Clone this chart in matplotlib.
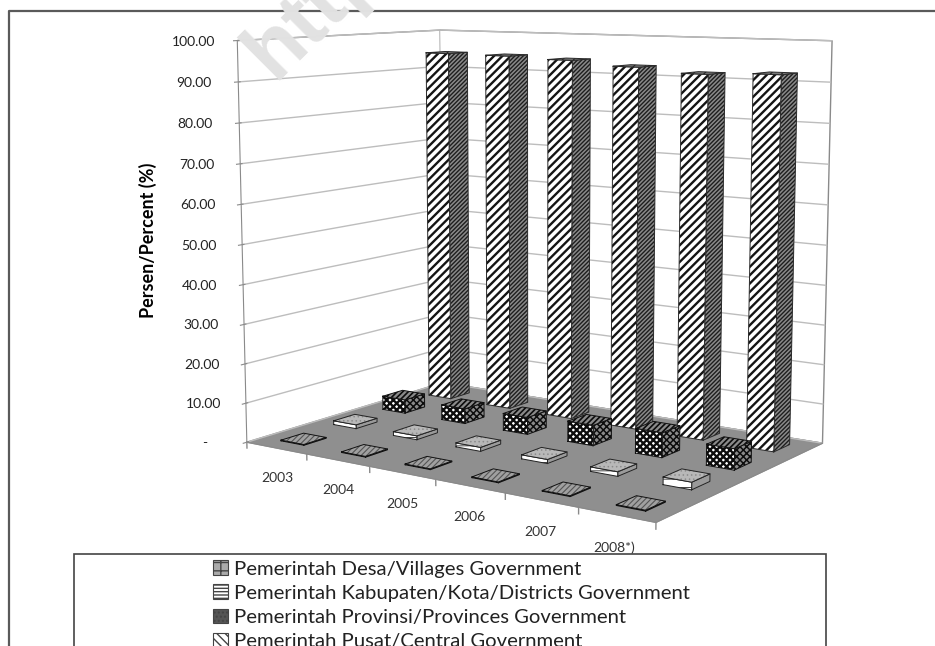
import numpy as np
import matplotlib
matplotlib.use('Agg')
import matplotlib.pyplot as plt
from matplotlib.patches import Patch, Rectangle
from mpl_toolkits.mplot3d.art3d import Poly3DCollection

plt.rcParams['font.family'] = ['Lato', 'DejaVu Sans']

years = ['2003', '2004', '2005', '2006', '2007', '2008*)']
series = [
    'Pemerintah Desa/Villages Government',
    'Pemerintah Kabupaten/Kota/Districts Government',
    'Pemerintah Provinsi/Provinces Government',
    'Pemerintah Pusat/Central Government',
]
desa = [0.18, 0.18, 0.18, 0.18, 0.18, 0.2]
kabupaten = [1.0, 1.0, 1.0, 1.0, 1.1, 1.8]
provinsi = [3.6, 3.9, 4.4, 5.2, 6.2, 5.2]
pusat = [94.5, 94.4, 93.9, 92.8, 91.7, 92.3]
z_ticks = [0, 10, 20, 30, 40, 50, 60, 70, 80, 90, 100]

values = [desa, kabupaten, provinsi, pusat]

# face, hatch colour, hatch and hatch width for the front, side and top of each series' boxes
styles = [
    {'front': ('#b0b0b0', '#303030', '////', 0.6), 'side': ('#505050', '#202020', '', 0.6),
     'top': ('#a0a0a0', '#555555', '//////', 0.8)},
    {'front': ('#ffffff', '#444444', '--', 0.7), 'side': ('#9a9a9a', '#222222', '', 0.6),
     'top': ('#b8b8b8', '#8c8c8c', '....', 0.6)},
    {'front': ('#ffffff', '#0c0c0c', 'xxxxx', 1.7), 'side': ('#8a8a8a', '#0c0c0c', 'xxxxx', 1.1),
     'top': ('#8a8a8a', '#0c0c0c', '//////', 1.2)},
    {'front': ('#ffffff', '#141414', '////', 1.7), 'side': ('#8a8a8a', '#1e1e1e', '////////', 1.0),
     'top': ('#777777', '#222222', '///', 0.8)},
]
edges = ['#111111', '#222222', '#111111', '#2a2a2a']

fig = plt.figure(figsize=(9.35, 6.46), dpi=100)

fig.add_artist(plt.Line2D([9 / 935, 9 / 935, 1], [0, 635 / 646, 635 / 646],
                          color='#5a5a5a', lw=1.6))
fig.text(0.336, 0.985, 'http', color='#e2e2e2', fontsize=60, fontweight='bold',
         family='Liberation Sans', rotation=45, ha='center', va='center')

ax = fig.add_axes([0.0585, -0.1217, 0.999, 0.999 * 935 / 646], projection='3d')
ax.patch.set_alpha(0)
ax.computed_zorder = False
ax.set_xlim(0, 6)
ax.set_ylim(0, 4)
ax.set_zlim(0, 100)
ax.view_init(8.6927, -55.4396)
ax.set_proj_type('persp', focal_length=0.372)
ax.set_box_aspect((4.1072, 2.7874, 3.4498), zoom=0.7405)

# walls, floor and gridlines
ax.xaxis.set_pane_color('#ffffff')
ax.yaxis.set_pane_color('#ffffff')
ax.zaxis.set_pane_color('#8f8f8f')
ax.xaxis.pane.set_edgecolor('#8a8a8a')
ax.yaxis.pane.set_edgecolor('#8a8a8a')
ax.zaxis.pane.set_edgecolor('#8f8f8f')
ax.xaxis._axinfo['grid'].update(linewidth=0)
ax.xaxis._axinfo['tick'].update(inward_factor=0, outward_factor=0)
ax.zaxis._axinfo['grid'].update(color='#bdbdbd', linewidth=1.0)
for axis in (ax.xaxis, ax.yaxis, ax.zaxis):
    axis.line.set_color('#8a8a8a')
ax.set_xticks(range(7))
ax.set_yticks([])
ax.set_zticks(z_ticks)
ax.set_zticklabels(['-'] + ['%.2f' % t for t in z_ticks[1:]], fontsize=10, color='#222222',
                   va='center_baseline')
for tick in ax.xaxis.get_major_ticks():
    tick.label1.set_visible(False)
ax.zaxis.set_ticks_position('lower')
ax.tick_params(axis='z', pad=18, color='#8a8a8a')


def box_faces(x, y, dx, dy, h):
    front = [(x, y, 0), (x + dx, y, 0), (x + dx, y, h), (x, y, h)]
    side = [(x + dx, y, 0), (x + dx, y + dy, 0), (x + dx, y + dy, h), (x + dx, y, h)]
    top = [(x, y, h), (x + dx, y, h), (x + dx, y + dy, h), (x, y + dy, h)]
    return {'side': side, 'front': front, 'top': top}


# boxes, back row first so that nearer ones paint over
order = 10
for s in range(3, -1, -1):
    for i, v in enumerate(values[s]):
        faces = box_faces(i + 0.31, s + 0.29, 0.38, 0.42, v)
        for name in ('side', 'front', 'top'):
            face, hatch_col, hatch, hatch_lw = styles[s][name]
            poly = Poly3DCollection([faces[name]], facecolor=face, edgecolor=hatch_col,
                                    hatch=hatch or None, linewidth=0, zorder=order)
            if hasattr(poly, 'set_hatch_linewidth'):
                poly.set_hatch_linewidth(hatch_lw)
            ax.add_collection3d(poly)
            order += 1
            outline = faces[name] + [faces[name][0]]
            ax.plot(*zip(*outline), color=edges[s], lw=0.7, zorder=order)
            order += 1

# year ticks hang below the front edge, labels sit under each interval
for i in range(len(years) + 1):
    ax.plot([i, i], [0, 0], [0, -1.5], color='#8a8a8a', lw=1.0, zorder=order)
for i, label in enumerate(years):
    ax.text(i + 0.41, 0.1, -8.3, label, fontsize=10, color='#333333', ha='center', va='center',
            zorder=order)

fig.text(148 / 935, 1 - 240 / 646, 'Persen/Percent (%)', rotation=90, fontsize=13,
         fontweight='bold', ha='center', va='center')

# legend, its box runs past the bottom edge
fig.add_artist(Rectangle((74 / 935, -0.05), 752 / 935, 1 - 554 / 646 + 0.05, fill=False,
                         edgecolor='#444444', lw=1.2, transform=fig.transFigure))
handles = [Patch(facecolor=c, edgecolor='#444444', hatch=h, lw=0.8)
           for c, h in zip(['#aaaaaa', '#ffffff', '#555555', '#ffffff'],
                           ['++', '-----', '....', '\\\\\\\\'])]
fig.legend(handles, series, loc='upper left', bbox_to_anchor=(197 / 935, 1 - 544 / 646),
           frameon=False, fontsize=14.6, handlelength=0.75, handleheight=0.75, handletextpad=0.25,
           labelspacing=0.33, borderpad=0.3, labelcolor='#222222')

fig.savefig('out.png', dpi=100)
